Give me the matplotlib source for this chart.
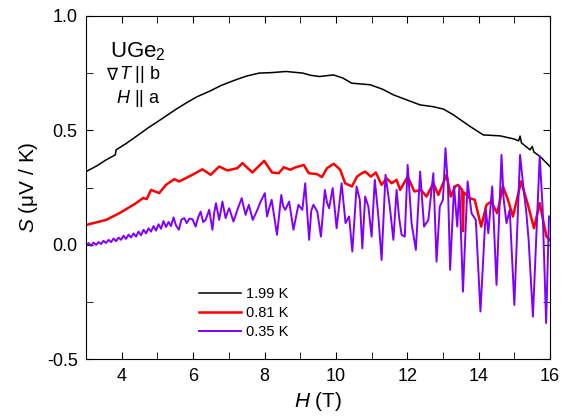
import matplotlib
matplotlib.use("Agg")
import matplotlib.pyplot as plt
from matplotlib.ticker import MultipleLocator

plt.rcParams["font.family"] = ["Liberation Sans", "DejaVu Sans"]
plt.rcParams["mathtext.fontset"] = "custom"
plt.rcParams["mathtext.it"] = "Liberation Sans:italic"
plt.rcParams["mathtext.rm"] = "Liberation Sans"

# 1.99 K
h_199 = [3.0, 3.30, 3.56, 3.82, 3.84, 4.10, 4.40, 4.75, 5.15, 5.50, 5.80, 6.10,
         6.45, 6.80, 7.20, 7.50, 7.85, 8.20, 8.60, 9.07, 9.30, 9.54, 9.93,
         10.20, 10.44, 10.96, 11.30, 11.61, 12.00, 12.36, 12.70, 13.01, 13.29,
         13.50, 13.76, 14.13, 14.60, 15.00, 15.12, 15.16, 15.20, 15.44, 15.50,
         15.55, 15.72, 16.0]
s_199 = [0.32, 0.345, 0.371, 0.393, 0.415, 0.440, 0.473, 0.512, 0.553, 0.590,
         0.619, 0.646, 0.670, 0.697, 0.721, 0.737, 0.750, 0.752, 0.757, 0.750,
         0.740, 0.735, 0.742, 0.728, 0.706, 0.699, 0.680, 0.655, 0.632, 0.611,
         0.604, 0.593, 0.568, 0.545, 0.517, 0.480, 0.476, 0.462, 0.454, 0.475,
         0.445, 0.415, 0.430, 0.405, 0.386, 0.342]

# 0.81 K
h_081 = [3.0, 3.56, 3.93, 4.40, 4.60, 4.70, 4.82, 5.05, 5.24, 5.47, 5.61, 5.98,
         6.26, 6.49, 6.73, 6.96, 7.24, 7.38, 7.66, 7.99, 8.21, 8.40, 8.54, 8.72,
         8.86, 9.10, 9.24, 9.47, 9.61, 9.75, 9.94, 10.12, 10.26, 10.45, 10.59,
         10.73, 10.82, 10.98, 11.12, 11.28, 11.42, 11.56, 11.70, 11.80, 12.01,
         12.20, 12.38, 12.54, 12.73, 12.87, 13.10, 13.22, 13.34, 13.42, 13.54,
         13.56, 13.58, 13.75, 13.89, 14.07, 14.22, 14.35, 14.52, 14.68, 14.82,
         14.96, 15.19, 15.38, 15.55, 15.71, 15.90, 16.0]
s_081 = [0.087, 0.109, 0.138, 0.182, 0.205, 0.200, 0.240, 0.226, 0.262, 0.287,
         0.277, 0.306, 0.330, 0.306, 0.342, 0.325, 0.335, 0.357, 0.316, 0.367,
         0.316, 0.313, 0.339, 0.328, 0.338, 0.349, 0.313, 0.309, 0.296, 0.335,
         0.354, 0.328, 0.269, 0.255, 0.298, 0.313, 0.320, 0.298, 0.316, 0.262,
         0.291, 0.269, 0.284, 0.240, 0.298, 0.233, 0.240, 0.211, 0.269, 0.218,
         0.306, 0.211, 0.255, 0.262, 0.240, 0.060, 0.230, 0.204, 0.197, 0.080,
         0.175, 0.189, 0.138, 0.255, 0.197, 0.124, 0.277, 0.175, 0.073, 0.182,
         0.036, 0.02]

# 0.35 K
h_035 = [3.00, 3.07, 3.14, 3.21, 3.28, 3.35, 3.42, 3.49, 3.56, 3.63, 3.70, 3.77,
         3.84, 3.91, 3.98, 4.05, 4.12, 4.19, 4.26, 4.33, 4.40, 4.47, 4.54, 4.61,
         4.68, 4.75, 4.82, 4.89, 4.96, 5.03, 5.10, 5.17, 5.24, 5.31, 5.38, 5.45,
         5.52, 5.60, 5.67, 5.75, 5.82, 5.90, 5.98, 6.07, 6.14, 6.21, 6.28, 6.35,
         6.45, 6.54, 6.59, 6.64, 6.73, 6.82, 6.91, 6.96, 7.01, 7.13, 7.24, 7.36,
         7.47, 7.56, 7.67, 7.80, 7.89, 8.01, 8.07, 8.13, 8.20, 8.35, 8.47, 8.52,
         8.58, 8.69, 8.81, 8.95, 9.06, 9.14, 9.25, 9.31, 9.37, 9.48, 9.58, 9.69,
         9.75, 9.81, 9.91, 10.02, 10.16, 10.27, 10.37, 10.46, 10.58, 10.67,
         10.74, 10.82, 10.91, 11.00, 11.09, 11.19, 11.28, 11.39, 11.51, 11.61,
         11.70, 11.77, 11.84, 11.93, 12.01, 12.12, 12.24, 12.36, 12.47, 12.59,
         12.73, 12.82, 12.91, 13.00, 13.07, 13.14, 13.20, 13.31, 13.40, 13.46,
         13.56, 13.69, 13.80, 13.92, 14.05, 14.20, 14.27, 14.38, 14.50, 14.64,
         14.70, 14.78, 14.87, 15.00, 15.16, 15.26, 15.33, 15.40, 15.52, 15.71,
         15.79, 15.89, 15.97]
s_035 = [-0.005, 0.008, -0.004, 0.010, 0.000, 0.012, 0.004, 0.018, 0.008, 0.022,
         0.012, 0.028, 0.016, 0.032, 0.022, 0.040, 0.026, 0.045, 0.032, 0.050,
         0.036, 0.058, 0.042, 0.066, 0.050, 0.072, 0.058, 0.082, 0.062, 0.090,
         0.070, 0.104, 0.078, 0.100, 0.082, 0.120, 0.085, 0.066, 0.110, 0.117,
         0.095, 0.115, 0.112, 0.080, 0.120, 0.145, 0.100, 0.109, 0.153, 0.066,
         0.140, 0.182, 0.109, 0.189, 0.117, 0.140, 0.160, 0.102, 0.153, 0.204,
         0.131, 0.175, 0.109, 0.153, 0.189, 0.226, 0.124, 0.160, 0.197, 0.044,
         0.218, 0.170, 0.153, 0.189, 0.066, 0.175, 0.153, 0.269, 0.022, 0.150,
         0.175, 0.145, 0.036, 0.240, 0.185, 0.160, 0.248, 0.073, 0.269, 0.095,
         0.124, -0.029, 0.255, 0.197, -0.015, 0.211, 0.167, 0.036, 0.284, 0.124,
         -0.066, 0.306, 0.167, 0.022, 0.240, 0.120, 0.044, 0.036, 0.349, 0.095,
         -0.022, 0.320, 0.080, 0.109, 0.313, -0.073, 0.167, 0.197, 0.422, 0.255,
         -0.109, 0.255, 0.080, 0.255, -0.204, 0.277, 0.138, 0.109, -0.291, 0.153,
         0.051, 0.255, -0.175, 0.393, 0.200, 0.095, 0.153, -0.262, 0.393, 0.240,
         0.150, 0.022, -0.313, 0.386, 0.167, -0.341, 0.124]

fig = plt.figure(figsize=(5.7, 4.16), dpi=100)
ax = fig.add_axes([0.151, 0.136, 0.814, 0.826])

ax.plot(h_199, s_199, color="black", lw=1.1, label="1.99 K")
ax.plot(h_081, s_081, color="#ff0000", lw=1.8, label="0.81 K")
ax.plot(h_035, s_035, color="#7f00ff", lw=1.4, label="0.35 K")

ax.set_xlim(3, 16)
ax.set_ylim(-0.5, 1.0)
ax.xaxis.set_major_locator(MultipleLocator(2))
ax.xaxis.set_minor_locator(MultipleLocator(1))
ax.yaxis.set_major_locator(MultipleLocator(0.5))
ax.yaxis.set_minor_locator(MultipleLocator(0.25))
ax.tick_params(which="both", direction="in", top=True, right=True, labelsize=13, pad=6)
ax.tick_params(which="both", length=5)
ax.set_yticks([-0.5, 0.0, 0.5, 1.0])
ax.set_yticklabels(["-0.5", "0.0", "0.5", "1.0"])

ax.set_xlabel("$H$ (T)", fontsize=15, labelpad=4)
ax.set_ylabel("$S$ (\u03bcV / K)", fontsize=15, labelpad=5)

ax.text(0.172, 0.895, "UGe$_2$", transform=ax.transAxes, fontsize=16, ha="right", va="center")
ax.text(0.066, 0.828, "\u2207", transform=ax.transAxes, fontsize=12, ha="right", va="center",
        family="DejaVu Sans")
ax.text(0.16, 0.828, "$T$ || b", transform=ax.transAxes, fontsize=13, ha="right", va="center")
ax.text(0.16, 0.758, "$H$ || a", transform=ax.transAxes, fontsize=13, ha="right", va="center")

ax.legend(loc="lower left", bbox_to_anchor=(0.215, 0.02), frameon=False, fontsize=10.5,
          handlelength=2.9, handletextpad=0.3, labelspacing=0.35)

fig.savefig("out.png", dpi=100)
